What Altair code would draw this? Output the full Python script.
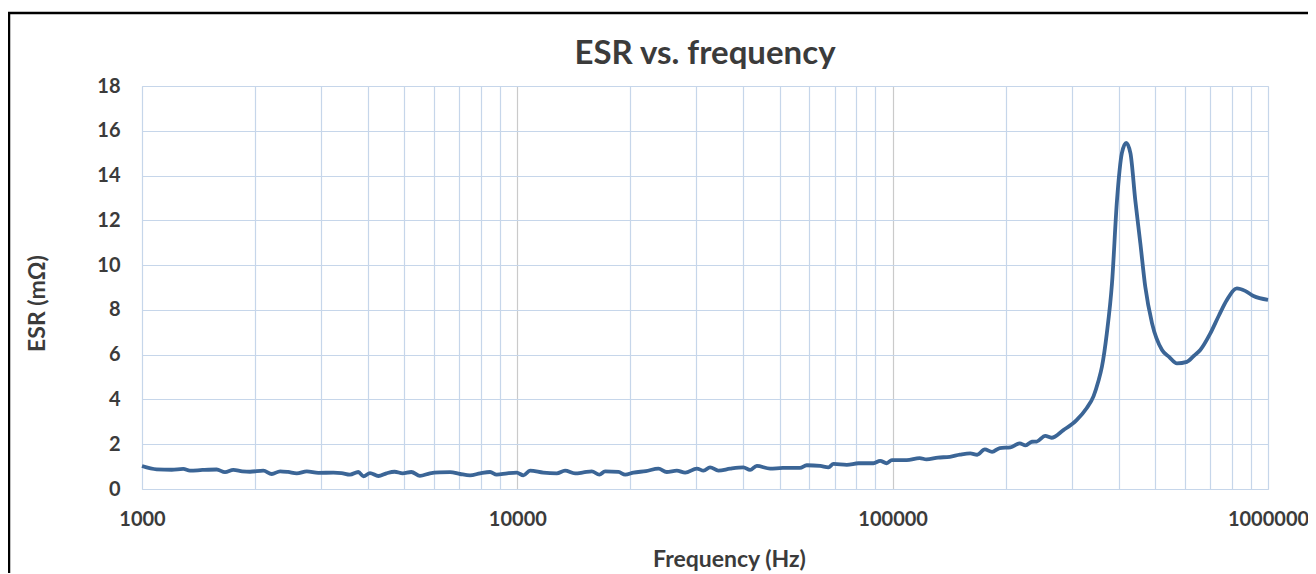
import altair as alt
import pandas as pd

freq = [1000, 1094, 1200, 1288, 1342, 1450, 1581, 1664, 1751, 1850, 1940, 2105, 2217, 2333, 2450,
        2584, 2749, 2950, 3236, 3400, 3583, 3770, 3890, 4050, 4265, 4480, 4710, 4950, 5220, 5500,
        5850, 6200, 6620, 7040, 7480, 7960, 8460, 8810, 9400, 9960, 10380, 10810, 11730, 12740,
        13400, 14250, 15000, 15790, 16540, 17130, 18600, 19380, 20390, 22000, 23770, 25000, 26600,
        28000, 30090, 31340, 32620, 34340, 36900, 40020, 41700, 43450, 47150, 51000, 56620, 59020,
        64100, 67440, 69550, 75500, 81100, 88900, 92600, 96400, 99500, 109000, 118000, 123000,
        132000, 142000, 151000, 161000, 168000, 176000, 184000, 193000, 206000, 218000, 226000,
        235000, 242000, 255000, 265000, 285000, 309000, 329000, 343000, 353000, 361000, 372000,
        384000, 396000, 408000, 419000, 430000, 443000, 457000, 471000, 491000, 522000, 545000,
        572000, 608000, 635000, 660000, 702000, 740000, 777000, 826000, 869000, 915000, 1000000]
esr = [1.03, 0.88, 0.86, 0.90, 0.82, 0.85, 0.87, 0.75, 0.85, 0.79, 0.77, 0.82, 0.67, 0.79, 0.76,
       0.70, 0.79, 0.72, 0.73, 0.71, 0.64, 0.76, 0.57, 0.71, 0.58, 0.70, 0.77, 0.70, 0.76, 0.59,
       0.70, 0.74, 0.75, 0.67, 0.61, 0.70, 0.76, 0.64, 0.70, 0.73, 0.61, 0.82, 0.73, 0.70,
       0.82, 0.70, 0.74, 0.79, 0.64, 0.79, 0.76, 0.64, 0.73, 0.80, 0.91, 0.76, 0.82,
       0.73, 0.91, 0.82, 0.97, 0.82, 0.91, 0.97, 0.85, 1.03, 0.91, 0.94, 0.94, 1.06,
       1.03, 0.97, 1.12, 1.08, 1.15, 1.15, 1.26, 1.15, 1.29, 1.29, 1.38, 1.32,
       1.40, 1.44, 1.53, 1.59, 1.53, 1.77, 1.66, 1.83, 1.86, 2.04, 1.95,
       2.11, 2.12, 2.37, 2.29, 2.63, 3.08, 3.62, 4.15, 4.80, 5.46, 6.95,
       9.18, 12.9, 15.0, 15.46, 15.0, 12.9, 10.97, 9.03, 7.40, 6.21, 5.90,
       5.61, 5.68, 5.95, 6.21, 6.95, 7.75, 8.44, 8.96, 8.85, 8.62, 8.45]

x_grid = [m * 10 ** e for e in range(3, 6) for m in range(1, 10)] + [1000000]
x_labels = ["1000", "10000", "100000", "1000000"]
y_ticks = list(range(0, 19, 2))
title_text = "ESR vs. frequency"

df = pd.DataFrame({"freq": freq, "esr": esr})

FONT = "Lato"
TXT = "#3b3b3b"
label_test = "indexof(" + str(x_labels) + ", datum.label) >= 0 ? datum.label : ''"

line = alt.Chart(df).mark_line(color="#3b6596", strokeWidth=3.8, interpolate="monotone").encode(
    x=alt.X("freq:Q",
            scale=alt.Scale(type="log", domain=[1000, 1000000], nice=False),
            axis=alt.Axis(values=x_grid, format="d", labelExpr=label_test, title="Frequency (Hz)",
                          ticks=False, domain=False, labelFlush=False, labelOverlap=False,
                          labelPadding=20, labelFontSize=20, labelFont=FONT, labelFontWeight="bold",
                          labelColor=TXT, titleFont=FONT, titleFontSize=23, titleFontWeight="bold",
                          titleColor=TXT, titleX=587, titleY=77, titleBaseline="alphabetic",
                          titleAnchor="start", titleAlign="center",
                          gridColor={"condition": {"test": "datum.value == 10000 || datum.value == 100000",
                                                   "value": "#cacaca"},
                                     "value": "#c6d6ea"},
                          gridWidth=1.2)),
    y=alt.Y("esr:Q",
            scale=alt.Scale(domain=[0, 18], nice=False),
            axis=alt.Axis(values=y_ticks, title="ESR (mΩ)", ticks=False, domain=False,
                          labelPadding=22, labelFontSize=20, labelFont=FONT, labelFontWeight="bold",
                          labelColor=TXT, titleFont=FONT, titleFontSize=23, titleFontWeight="bold",
                          titleColor=TXT, titleX=-98, titleY=217, titleAngle=-90,
                          titleBaseline="alphabetic", titleAlign="center", titleAnchor="start",
                          gridColor="#c6d6ea", gridWidth=1.2)),
)

one = pd.DataFrame({"k": [0]})
vborder = alt.Chart(one).mark_rule(color="black", strokeWidth=2.5).encode(
    x=alt.value(-133), y=alt.value(-74), y2=alt.value(600))
hborder = alt.Chart(one).mark_rule(color="black", strokeWidth=2.5).encode(
    x=alt.value(-134), x2=alt.value(1300), y=alt.value(-73))
title = alt.Chart(one).mark_text(text=title_text, font=FONT, fontSize=33, fontWeight="bold",
                                 color=TXT, align="center", baseline="alphabetic").encode(
    x=alt.value(563), y=alt.value(-22))

chart = alt.layer(line, vborder, hborder, title).properties(
    width=1126, height=403,
    autosize=alt.AutoSizeParams(type="none"),
    padding={"left": 134, "top": 78, "right": 40, "bottom": 84},
).configure_view(stroke="#bcd0e8", strokeWidth=2.5).configure(background="white")

chart.save("out.html", embed_options={"renderer": "svg", "actions": False})
